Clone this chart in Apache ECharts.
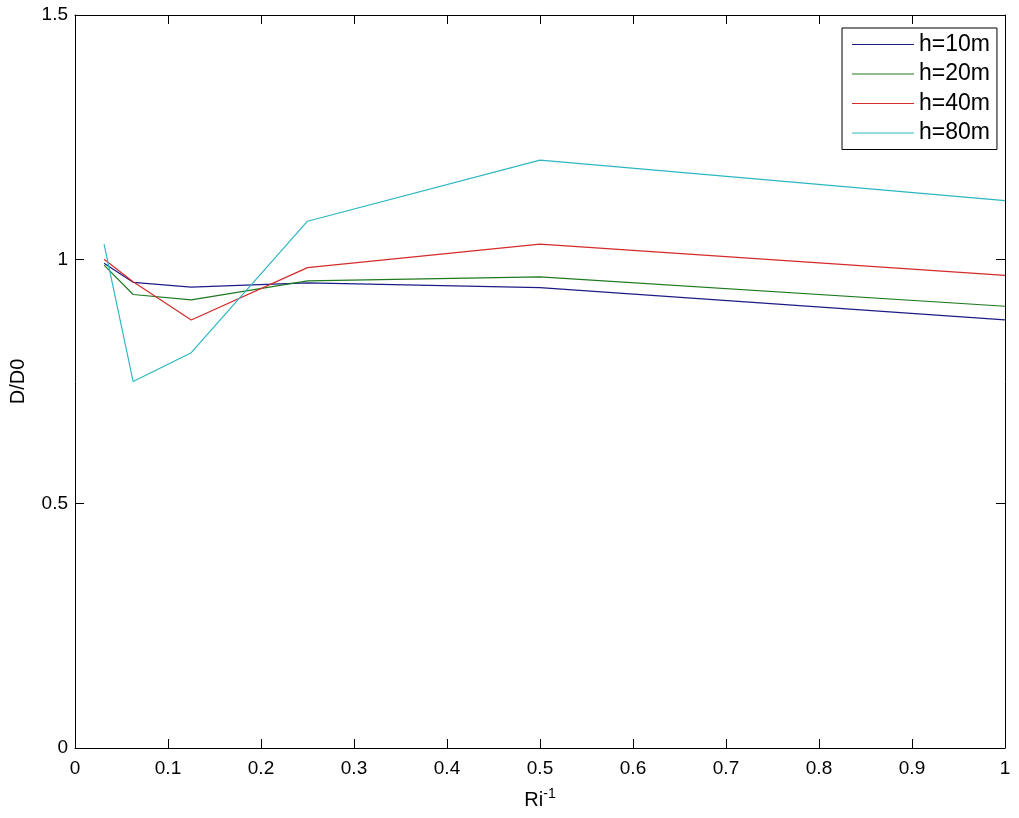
<!DOCTYPE html>
<html>
<head>
<meta charset="utf-8">
<script src="https://cdn.jsdelivr.net/npm/echarts@6/dist/echarts.min.js"></script>
<style>html,body{margin:0;padding:0;background:#fff;}#c{width:1019px;height:818px;}</style>
</head>
<body>
<div id="c"></div>
<script>
const xValues = [0.03125, 0.0625, 0.125, 0.25, 0.5, 1];
const seriesNames = ['h=10m', 'h=20m', 'h=40m', 'h=80m'];
const h10 = [0.992, 0.953, 0.943, 0.952, 0.942, 0.876];
const h20 = [0.988, 0.928, 0.917, 0.956, 0.964, 0.904];
const h40 = [1.000, 0.954, 0.876, 0.983, 1.031, 0.967];
const h80 = [1.031, 0.750, 0.809, 1.078, 1.203, 1.120];
const colors = ['#1c1c86', '#1e7a1e', '#d42b2b', '#2db7c2'];
const xTicks = ['0','0.1','0.2','0.3','0.4','0.5','0.6','0.7','0.8','0.9','1'];
const yTicks = ['0','0.5','1','1.5'];

const font = 'Liberation Sans, Arial, sans-serif';
const allData = [h10, h20, h40, h80];
const chart = echarts.init(document.getElementById('c'));
const axLine = {show: true, onZero: false, lineStyle: {color: '#000', width: 1}};
const tick = {show: true, inside: true, length: 9, lineStyle: {color: '#000', width: 1}};
chart.setOption({
  animation: false,
  backgroundColor: '#fff',
  grid: {left: 75, right: 14, top: 15, bottom: 70, containLabel: false, outerBoundsMode: 'none'},
  legend: {
    orient: 'vertical', left: 842, top: 28,
    padding: [5, 7, 5, 10],
    itemGap: 6.5,
    icon: 'rect', itemWidth: 62, itemHeight: 1,
    borderColor: '#000', borderWidth: 1, backgroundColor: '#fff', borderRadius: 0,
    textStyle: {fontFamily: font, fontSize: 23, color: '#000', lineHeight: 22},
    data: seriesNames.map((n, i) => ({name: n, itemStyle: {color: colors[i]}}))
  },
  xAxis: [
    {type: 'value', min: 0, max: 1, interval: 0.1, position: 'bottom',
     axisLine: axLine, axisTick: tick, splitLine: {show: false},
     axisLabel: {fontFamily: font, fontSize: 19, color: '#000', margin: 11,
       formatter: v => xTicks[Math.round(v * 10)]},
     name: '{b|Ri}{s|-1}', nameLocation: 'middle', nameGap: 42,
     nameTextStyle: {rich: {
       b: {fontFamily: font, fontSize: 20, lineHeight: 20, color: '#000', verticalAlign: 'bottom'},
       s: {fontFamily: font, fontSize: 14, lineHeight: 14, color: '#000', verticalAlign: 'bottom', padding: [0, 0, 9, 0]}}}},
    {type: 'value', min: 0, max: 1, interval: 0.1, position: 'top',
     axisLine: axLine, axisTick: tick, axisLabel: {show: false}, splitLine: {show: false}}
  ],
  yAxis: [
    {type: 'value', min: 0, max: 1.5, interval: 0.5, position: 'left',
     axisLine: axLine, axisTick: tick, splitLine: {show: false},
     axisLabel: {fontFamily: font, fontSize: 19, color: '#000', margin: 7,
       formatter: v => yTicks[Math.round(v * 2)]},
     name: 'D/D0', nameLocation: 'middle', nameGap: 47, nameRotate: 90,
     nameTextStyle: {fontFamily: font, fontSize: 20, color: '#000'}},
    {type: 'value', min: 0, max: 1.5, interval: 0.5, position: 'right',
     axisLine: axLine, axisTick: tick, axisLabel: {show: false}, splitLine: {show: false}}
  ],
  series: seriesNames.map((n, i) => ({
    name: n, type: 'line', symbol: 'none', color: colors[i],
    itemStyle: {color: colors[i]},
    lineStyle: {width: 1.2, color: colors[i]},
    data: xValues.map((x, j) => [x, allData[i][j]])
  }))
});
</script>
</body>
</html>
